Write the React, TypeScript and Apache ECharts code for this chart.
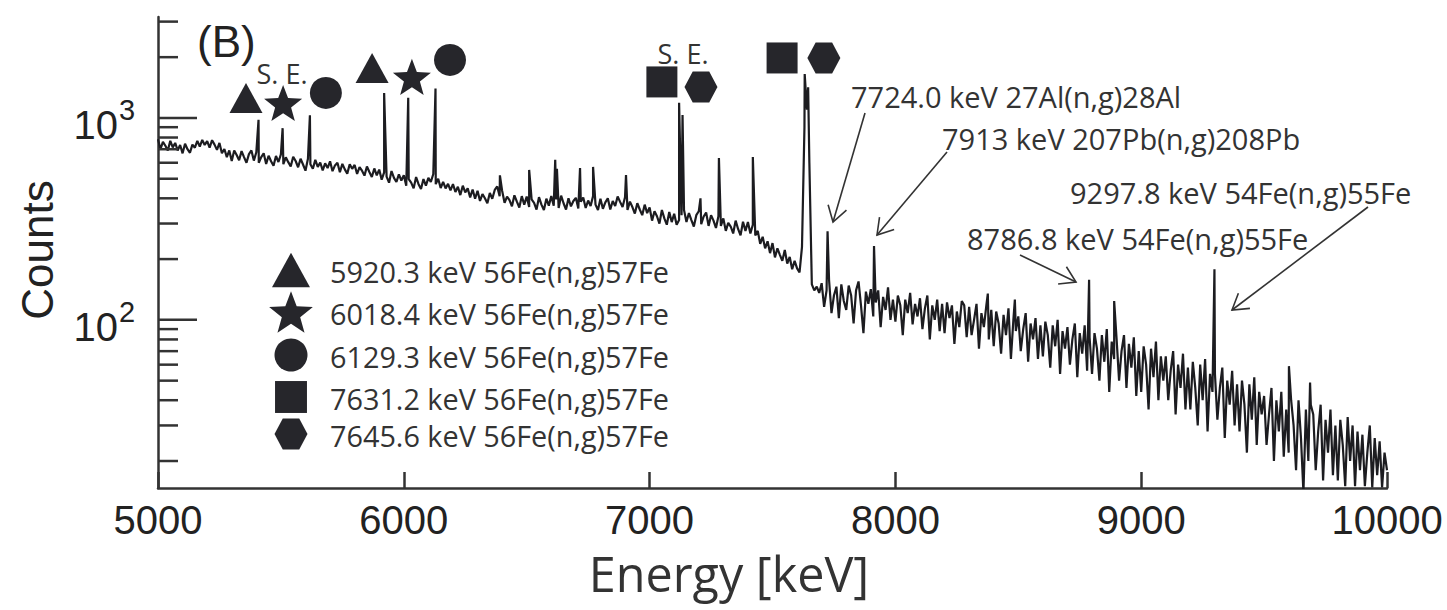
import React, { useEffect, useRef } from 'react';
import * as echarts from 'echarts';

// ---------- data ----------
const energyStart = 5000;
const energyStep = 10;
// background counts every 10 keV (rows of 100 keV)
const background = [
  785, 700, 762, 728, 690, 770, 715, 752, 690, 735,
  668, 745, 700, 672, 738, 712, 770, 722, 778, 735,
  768, 712, 776, 738, 695, 752, 668, 702, 640, 690,
  612, 690, 655, 618, 685, 640, 600, 662, 690, 615,
  676, 600, 640, 668, 592, 650, 610, 580, 648, 605,
  660, 590, 638, 604, 575, 642, 612, 570, 628, 588,
  548, 628, 590, 560, 620, 572, 602, 550, 596, 565,
  610, 545, 582, 600, 538, 592, 556, 530, 590, 560,
  585, 528, 570, 548, 518, 575, 540, 510, 562, 520,
  555, 495, 538, 512, 478, 546, 505, 482, 525, 490,
  520, 462, 498, 478, 448, 510, 470, 445, 498, 462,
  505, 482, 528, 470, 500, 450, 482, 448, 472, 438,
  470, 430, 456, 415, 462, 428, 448, 404, 442, 398,
  436, 388, 420, 400, 378, 425, 398, 440, 458, 410,
  436, 380, 408, 392, 365, 414, 385, 360, 410, 372,
  408, 362, 395, 380, 352, 405, 372, 350, 398, 368,
  410, 368, 395, 358, 412, 378, 352, 400, 365, 388,
  402, 356, 385, 404, 358, 390, 366, 410, 372, 350,
  398, 355, 382, 400, 352, 388, 366, 408, 384, 362,
  405, 350, 385, 362, 336, 378, 352, 330, 372, 338,
  360, 310, 345, 326, 300, 350, 318, 296, 342, 305,
  335, 296, 312, 330, 350, 305, 338, 312, 290, 330,
  345, 298, 325, 340, 292, 330, 310, 285, 326, 292,
  318, 276, 302, 290, 268, 310, 282, 262, 306, 276,
  305, 268, 296, 262, 276, 238, 258, 226, 245, 214,
  240, 204, 226, 210, 196, 222, 190, 205, 178, 196,
  180, 172, 230, 900, 1100, 600, 150, 140, 146, 136,
  152, 116, 140, 158, 108, 132, 146, 102, 150, 124,
  112, 148, 132, 96, 140, 155, 118, 86, 138, 120,
  142, 104, 122, 140, 92, 130, 112, 145, 100, 126,
  98, 132, 118, 84, 126, 108, 136, 95, 120, 104,
  128, 90, 114, 132, 80, 118, 100, 126, 88, 120,
  86, 122, 102, 118, 76, 110, 92, 124, 118, 82,
  116, 84, 100, 120, 72, 108, 92, 118, 80, 112,
  74, 110, 96, 68, 106, 84, 114, 64, 100, 88,
  104, 70, 90, 108, 62, 96, 80, 102, 64, 94,
  66, 98, 84, 58, 94, 74, 100, 54, 88, 72,
  92, 60, 80, 96, 52, 86, 68, 94, 56, 82,
  54, 86, 72, 50, 84, 62, 90, 44, 78, 64,
  80, 50, 70, 84, 46, 76, 58, 82, 42, 70,
  44, 74, 60, 36, 72, 52, 78, 40, 66, 50,
  66, 40, 56, 70, 34, 60, 46, 68, 36, 58,
  36, 62, 46, 30, 60, 40, 64, 28, 54, 44,
  54, 32, 46, 58, 26, 50, 38, 56, 30, 48,
  28, 50, 38, 22, 48, 32, 52, 24, 44, 34,
  42, 24, 34, 46, 20, 40, 28, 44, 21, 36,
  22, 40, 30, 18, 40, 26, 14, 36, 20, 38,
  34, 18, 28, 38, 16, 32, 22, 36, 17, 30,
  16, 32, 24, 15, 33, 20, 30, 15, 28, 18,
  27, 15, 22, 30, 14.8, 26, 17, 25, 14.8, 22,
  18,
];
// gamma-ray peaks (energy keV, top counts)
const peakEnergy = [5409, 5507, 5618, 5920, 6018, 6129, 6391, 6510, 6616, 6623, 6717, 6770, 6904, 7120, 7134, 7207, 7282, 7420, 7631, 7645, 7724, 7913, 8376, 8486, 8788, 8890, 9298, 9601, 9687];
const peakCounts = [980, 890, 1030, 1330, 1260, 1400, 520, 553, 620, 560, 565, 572, 522, 1190, 1035, 400, 634, 641, 1650, 1420, 275, 232, 135, 126, 158, 124, 178, 59, 49];

// axes
const xMin = 5000;
const xMax = 10000;
const xInterval = 1000;
const yMin = 14.7;
const yMax = 3162;
const yMajorTicks = [100, 1000];
const yMajorExp = ['2', '3'];
const yMinorTicks = [20, 30, 40, 50, 60, 70, 80, 90, 200, 300, 400, 500, 600, 700, 800, 900, 2000, 3000];

// peak markers above the spectrum (anchored in data space)
const markerKind = ['triangle', 'star', 'circle', 'triangle', 'star', 'circle', 'square', 'hexagon', 'square', 'hexagon'];
const markerEnergy = [5358, 5509, 5683, 5871, 6033, 6188, 7050, 7209, 7539, 7709];
const markerCounts = [1256, 1186, 1330, 1768, 1596, 1937, 1508, 1424, 1982, 1982];

// legend
const legendKind = ['triangle', 'star', 'circle', 'square', 'hexagon'];
const legendText = [
  '5920.3 keV 56Fe(n,g)57Fe',
  '6018.4 keV 56Fe(n,g)57Fe',
  '6129.3 keV 56Fe(n,g)57Fe',
  '7631.2 keV 56Fe(n,g)57Fe',
  '7645.6 keV 56Fe(n,g)57Fe',
];

// annotations
const annotText = [
  '7724.0 keV 27Al(n,g)28Al',
  '7913 keV 207Pb(n,g)208Pb',
  '9297.8 keV 54Fe(n,g)55Fe',
  '8786.8 keV 54Fe(n,g)55Fe',
];

const INK = '#26262b';
const TEXT = '#333333';
const SANS = "'Open Sans', 'Noto Sans', sans-serif";
const ARIAL = "'Liberation Sans', Arial, sans-serif";

function shapeEl(kind: string, cx: number, cy: number, s: number): any {
  const style = { fill: INK };
  if (kind === 'circle') return { type: 'circle', z: 100, shape: { cx, cy, r: 16 * s }, style };
  if (kind === 'square') {
    const w = 31 * s;
    return { type: 'rect', z: 100, shape: { x: cx - w / 2, y: cy - w / 2, width: w, height: w }, style };
  }
  if (kind === 'triangle') {
    const w = 33 * s, h = 30 * s;
    return { type: 'polygon', z: 100, shape: { points: [[cx, cy - h / 2], [cx + w / 2, cy + h / 2], [cx - w / 2, cy + h / 2]] }, style };
  }
  if (kind === 'hexagon') {
    const w = 33 * s, h = 31 * s;
    return {
      type: 'polygon', z: 100,
      shape: { points: [[cx - w / 2, cy], [cx - w / 4, cy - h / 2], [cx + w / 4, cy - h / 2], [cx + w / 2, cy], [cx + w / 4, cy + h / 2], [cx - w / 4, cy + h / 2]] },
      style,
    };
  }
  // star
  const R = 20 * s;
  const r = R * 0.42;
  const oy = cy + 0.095 * R;
  const pts: number[][] = [];
  for (let k = 0; k < 10; k++) {
    const ang = -Math.PI / 2 + (k * Math.PI) / 5;
    const rad = k % 2 === 0 ? R : r;
    pts.push([cx + rad * Math.cos(ang), oy + rad * Math.sin(ang)]);
  }
  return { type: 'polygon', z: 100, shape: { points: pts }, style };
}

function arrowEls(x1: number, y1: number, x2: number, y2: number): any[] {
  const ang = Math.atan2(y1 - y2, x1 - x2);
  const L = 18, a = 0.56;
  const b1 = [x2 + L * Math.cos(ang - a), y2 + L * Math.sin(ang - a)];
  const b2 = [x2 + L * Math.cos(ang + a), y2 + L * Math.sin(ang + a)];
  const st = { stroke: TEXT, lineWidth: 1.6, fill: null };
  return [
    { type: 'line', z: 100, shape: { x1, y1, x2, y2 }, style: st },
    { type: 'polyline', z: 100, shape: { points: [b1, [x2, y2], b2] }, style: st },
  ];
}

function textEl(text: string, x: number, y: number, fontSize: number, fontFamily: string, align = 'left', fill = TEXT, extra: any = {}): any {
  return {
    type: 'text', z: 100, x, y, ...extra,
    style: { text, fontSize, fontFamily, fill, align, verticalAlign: 'middle' },
  };
}

export default function App() {
  const ref = useRef<HTMLDivElement>(null);
  useEffect(() => {
    const chart = echarts.init(ref.current!, null, { renderer: 'svg' });
    const pts: number[][] = background.map((c, i) => [energyStart + i * energyStep, c]);
    peakEnergy.forEach((e, i) => pts.push([e, peakCounts[i]]));
    pts.sort((a, b) => a[0] - b[0]);

    chart.setOption({
      animation: false,
      backgroundColor: '#ffffff',
      grid: { left: 158, right: 60, top: 17, bottom: 122, containLabel: false },
      xAxis: {
        type: 'value', min: xMin, max: xMax, interval: xInterval,
        axisLine: { show: true, lineStyle: { color: '#333', width: 2.5 } },
        axisTick: { show: true, inside: true, length: 16, lineStyle: { color: '#333', width: 2.5 } },
        axisLabel: { fontSize: 40, fontFamily: ARIAL, color: '#222', margin: 12, formatter: (v: number) => String(v) },
        splitLine: { show: false },
      },
      yAxis: {
        type: 'log', logBase: 10, min: yMin, max: yMax,
        axisLine: { show: true, lineStyle: { color: '#333', width: 2.5 } },
        axisTick: { show: false },
        axisLabel: { show: false },
        splitLine: { show: false },
      },
      series: [
        {
          type: 'line', data: pts, showSymbol: false, symbol: 'none', clip: true,
          lineStyle: { color: '#1c1c20', width: 2.2 },
        },
      ],
    });

    const toPx = (e: number, c: number) => chart.convertToPixel({ gridIndex: 0 }, [e, c]) as number[];
    const axisX = toPx(xMin, yMin)[0];
    const g: any[] = [];
    // y ticks
    yMajorTicks.forEach((v, i) => {
      const y = toPx(xMin, v)[1];
      g.push({ type: 'line', z: 90, shape: { x1: axisX, y1: y, x2: axisX + 39, y2: y }, style: { stroke: '#333', lineWidth: 2.5 } });
      g.push(textEl('10', axisX - 40, y + 7, 40, ARIAL, 'right', '#222'));
      g.push(textEl(yMajorExp[i], axisX - 39, y - 8, 29, ARIAL, 'left', '#222'));
    });
    yMinorTicks.forEach((v) => {
      const y = toPx(xMin, v)[1];
      g.push({ type: 'line', z: 90, shape: { x1: axisX, y1: y, x2: axisX + 20, y2: y }, style: { stroke: '#333', lineWidth: 2.5 } });
    });
    // peak markers
    markerKind.forEach((k, i) => {
      const p = toPx(markerEnergy[i], markerCounts[i]);
      g.push(shapeEl(k, p[0], p[1], 1));
    });
    // S. E. labels
    g.push(textEl('S. E.', 282, 73, 27, SANS, 'center'));
    g.push(textEl('S. E.', 683, 53, 27, SANS, 'center'));
    // legend
    const legendY = [270, 312, 355, 397, 434];
    const legendScale = [1.15, 1.15, 1.03, 1.03, 1.0];
    legendKind.forEach((k, i) => {
      g.push(shapeEl(k, 291, legendY[i], legendScale[i]));
      g.push(textEl(legendText[i], 330, legendY[i] + 1, 28.8, SANS, 'left'));
    });
    // annotations
    const annotPos = [[851, 96], [942, 138], [1070, 192], [967, 238]];
    annotText.forEach((t, i) => g.push(textEl(t, annotPos[i][0], annotPos[i][1], 29, SANS, 'left')));
    g.push(...arrowEls(865, 113, 833, 222));
    g.push(...arrowEls(947, 152, 877, 235));
    g.push(...arrowEls(1020, 255, 1076, 282));
    g.push(...arrowEls(1368, 207, 1232, 310));
    // panel label and axis titles
    g.push(textEl('(B)', 197, 41, 44, ARIAL, 'left', '#222'));
    g.push(textEl('Counts', 37, 250, 44, ARIAL, 'center', '#222', { rotation: Math.PI / 2 }));
    g.push(textEl('Energy [keV]', 729, 573, 48.5, SANS, 'center', '#333'));

    chart.setOption({ graphic: g });
    return () => chart.dispose();
  }, []);
  return <div ref={ref} style={{ position: 'absolute', left: 0, top: 0, width: 1447, height: 610, background: '#fff' }} />;
}
